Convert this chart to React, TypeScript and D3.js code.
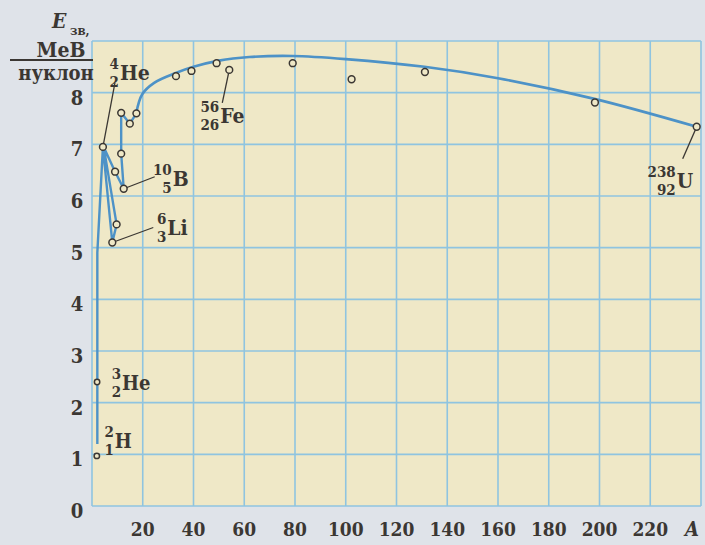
import * as d3 from 'd3';

// binding energy per nucleon (MeV) vs mass number A
const pointA = [1.9, 2.0, 4.3, 8.0, 9.7, 9.1, 12.5, 11.5, 11.5, 14.9, 17.5, 33.1, 39.2, 49.1, 54.1, 79.1, 102.3, 131.2, 198.2, 238.3];
const pointE = [0.97, 2.4, 6.95, 5.1, 5.45, 6.47, 6.14, 6.82, 7.61, 7.4, 7.6, 8.32, 8.42, 8.57, 8.44, 8.57, 8.26, 8.4, 7.81, 7.34];

// light nuclei: broken line
const lightA = [2.1, 2.1, 4.3, 8.0, 9.7, 4.6, 9.1, 12.5, 11.5, 11.5, 14.9, 17.5];
const lightE = [1.2, 4.9, 6.95, 5.1, 5.45, 6.95, 6.47, 6.14, 6.82, 7.61, 7.4, 7.6];

// smooth curve for heavier nuclei
const curveA = [17.5, 19.8, 24.5, 33, 40, 50, 62, 79, 100, 131, 160, 198, 238.3];
const curveE = [7.62, 7.97, 8.19, 8.38, 8.5, 8.62, 8.69, 8.71, 8.65, 8.5, 8.28, 7.88, 7.34];

const xTicks = [20, 40, 60, 80, 100, 120, 140, 160, 180, 200, 220];
const yTicks = [0, 1, 2, 3, 4, 5, 6, 7, 8];

const W = 705;
const H = 545;
const INK = '#3b3733';
const SERIF = '"DejaVu Serif Condensed", "DejaVu Serif", serif';

function Nuclide({ x, y, mass, z, sym, size = 21 }) {
  return (
    <g fontFamily={SERIF} fill={INK} fontWeight="bold">
      <text x={x - 1} y={y - 11} fontSize={15} textAnchor="end">{mass}</text>
      <text x={x - 1} y={y + 7} fontSize={15} textAnchor="end">{z}</text>
      <text x={x} y={y} fontSize={size}>{sym}</text>
    </g>
  );
}

export default function App() {
  const x = d3.scaleLinear().domain([0, 240]).range([92, 701]);
  const y = d3.scaleLinear().domain([0, 9]).range([506, 41]);

  const lineLinear = d3.line<number>()
    .x((_, i) => x(lightA[i]))
    .y((_, i) => y(lightE[i]));
  const lineSmooth = d3.line<number>()
    .x((_, i) => x(curveA[i]))
    .y((_, i) => y(curveE[i]))
    .curve(d3.curveCatmullRom.alpha(0.5));

  const px = (i) => x(pointA[i]);
  const py = (i) => y(pointE[i]);

  return (
    <svg width={W} height={H} style={{ position: 'absolute', left: 0, top: 0, background: '#dfe3e9' }}>
      <rect x={x(0)} y={y(9)} width={x(240) - x(0)} height={y(0) - y(9)} fill="#efe8c7" />
      {d3.range(0, 241, 20).map(v => (
        <line key={'gx' + v} x1={x(v)} x2={x(v)} y1={y(0)} y2={y(9)} stroke="#8fc4e0" strokeWidth={1.6} />
      ))}
      {d3.range(0, 10).map(v => (
        <line key={'gy' + v} x1={x(0)} x2={x(240)} y1={y(v)} y2={y(v)} stroke="#8fc4e0" strokeWidth={1.6} />
      ))}

      {/* axis labels */}
      {yTicks.map(v => (
        <text key={'yt' + v} x={77} y={y(v) + 5} fontFamily={SERIF} fontSize={20} fontWeight="bold" fill={INK}
          textAnchor="middle" dominantBaseline="central">{v}</text>
      ))}
      {xTicks.map(v => (
        <text key={'xt' + v} x={x(v)} y={529} fontFamily={SERIF} fontSize={19} fontWeight="bold" fill={INK}
          textAnchor="middle" dominantBaseline="central">{v}</text>
      ))}
      <text x={692} y={529} fontFamily={SERIF} fontSize={20} fontStyle="italic" fontWeight="bold" fill={INK}
        textAnchor="middle" dominantBaseline="central">A</text>

      <g fontFamily={SERIF} fill={INK} fontWeight="bold">
        <text x={52} y={28} fontSize={21} fontStyle="italic">E</text>
        <text x={70} y={35} fontSize={13}>зв,</text>
        <text x={61} y={57} fontSize={21} textAnchor="middle">МеВ</text>
        <line x1={10} x2={93} y1={60} y2={60} stroke={INK} strokeWidth={1.8} />
        <text x={56} y={80} fontSize={20} textAnchor="middle">нуклон</text>
      </g>

      {/* curves */}
      <path d={lineLinear(lightA) || ''} fill="none" stroke="#4d92c7" strokeWidth={2.4} strokeLinejoin="round" />
      <path d={lineSmooth(curveA) || ''} fill="none" stroke="#4d92c7" strokeWidth={2.6} />

      {/* leader lines */}
      <g stroke={INK} strokeWidth={1.3}>
        <line x1={px(2)} y1={py(2)} x2={px(2) + 12} y2={py(2) - 64} />
        <line x1={px(14)} y1={py(14)} x2={px(14) - 7} y2={py(14) + 33} />
        <line x1={px(6)} y1={py(6)} x2={px(6) + 31} y2={py(6) - 12} />
        <line x1={px(3)} y1={py(3)} x2={px(3) + 41} y2={py(3) - 15} />
        <line x1={px(19)} y1={py(19)} x2={px(19) - 14} y2={py(19) + 32} />
      </g>

      {pointA.map((a, i) => (
        <circle key={'p' + i} cx={x(a)} cy={y(pointE[i])} r={i < 2 ? 2.7 : 3.4} fill="#efe8c7" stroke={INK} strokeWidth={1.5} />
      ))}

      {/* nuclide labels */}
      <Nuclide x={px(2) + 17} y={py(2) - 67} mass="4" z="2" sym="He" />
      <Nuclide x={px(14) - 9} y={py(14) + 53} mass="56" z="26" sym="Fe" />
      <Nuclide x={px(6) + 49} y={py(6) - 3} mass="10" z="5" sym="B" />
      <Nuclide x={px(3) + 55} y={py(3) - 8} mass="6" z="3" sym="Li" />
      <Nuclide x={px(1) + 25} y={py(1) + 8} mass="3" z="2" sym="He" size={20} />
      <Nuclide x={px(0) + 18} y={py(0) - 8} mass="2" z="1" sym="H" size={20} />
      <Nuclide x={px(19) - 20} y={py(19) + 61} mass="238" z="92" sym="U" />
    </svg>
  );
}
